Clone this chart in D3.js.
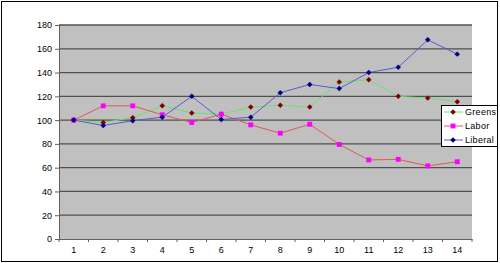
<!DOCTYPE html>
<meta charset="utf-8">
<style>
  body { margin: 0; background: #fff; }
  svg text { font-family: "Liberation Sans", Arial, sans-serif; font-size: 9px; fill: #000; }
  .grid line { stroke: #505050; stroke-width: 1.3px; }
  .line { fill: none; stroke-width: 1px; }
</style>
<body>
<script src="https://d3js.org/d3.v7.min.js"></script>
<script>
  // data
  var categories = ["1","2","3","4","5","6","7","8","9","10","11","12","13","14"];
  var greens  = [100, 98, 102, 112, 106, 105, 111, 112.5, 111, 132, 134, 120, 118.5, 115.5];
  var labor   = [100, 112, 112, 104.5, 98, 105, 96, 89, 96.5, 79.5, 66.5, 67, 61.5, 65];
  var liberal = [100, 95.5, 99.5, 102.5, 120, 100.5, 102.5, 123, 130, 126.5, 140, 144.5, 167.5, 155.5];
  var yTicks  = [0, 20, 40, 60, 80, 100, 120, 140, 160, 180];

  var seriesList = [
    { name: "Greens",  values: greens,  line: "#6ee06e", marker: "#800000", rot: 45 },
    { name: "Labor",   values: labor,   line: "#e05858", marker: "#ff00ff", rot: 0 },
    { name: "Liberal", values: liberal, line: "#5a5ad0", marker: "#000080", rot: 45 }
  ];

  var W = 500, H = 263;
  var margin = { top: 25, right: 28, bottom: 24, left: 59 },
    width = W - margin.left - margin.right,
    height = H - margin.top - margin.bottom;

  var svg = d3.select("body").append("svg")
    .attr("width", W)
    .attr("height", H);

  // outer chart border
  svg.append("rect")
    .attr("x", 1.5).attr("y", 1.5)
    .attr("width", W - 4).attr("height", H - 3)
    .attr("fill", "#fff").attr("stroke", "#000").attr("stroke-width", 1);

  var g = svg.append("g")
    .attr("transform", "translate(" + margin.left + "," + margin.top + ")");

  var x = d3.scaleBand().domain(categories).range([0, width]);
  var y = d3.scaleLinear().domain([0, 180]).range([height, 0]);

  // plot area
  g.append("rect")
    .attr("width", width).attr("height", height)
    .attr("fill", "#c0c0c0");

  // gridlines
  g.append("g").attr("class", "grid")
    .selectAll("line")
    .data(yTicks.filter(function (d) { return d > 0; }))
    .enter().append("line")
    .attr("x1", 0).attr("x2", width)
    .attr("y1", function (d) { return y(d); })
    .attr("y2", function (d) { return y(d); });

  // y axis
  var yAxis = g.append("g")
    .call(d3.axisLeft(y).tickValues(yTicks).tickSize(4).tickPadding(3));
  yAxis.select(".domain").attr("stroke", "#606060");
  yAxis.selectAll(".tick line").attr("stroke", "#606060");

  // x axis, ticks at category boundaries
  var xAxis = g.append("g")
    .attr("transform", "translate(0," + height + ")")
    .call(d3.axisBottom(x).tickSize(0).tickPadding(8));
  xAxis.select(".domain").attr("stroke", "#606060");
  xAxis.selectAll("text").attr("dy", "0.71em");
  xAxis.selectAll(".bound")
    .data(d3.range(categories.length + 1))
    .enter().append("line")
    .attr("class", "bound")
    .attr("x1", function (i) { return i * x.bandwidth(); })
    .attr("x2", function (i) { return i * x.bandwidth(); })
    .attr("y1", 0).attr("y2", 3)
    .attr("stroke", "#606060");

  var cx = function (d, i) { return x(categories[i]) + x.bandwidth() / 2; };
  var marker = function (s) {
    return d3.symbol().type(d3.symbolSquare).size(s.rot ? 15 : 24)();
  };

  seriesList.forEach(function (s) {
    var valueline = d3.line()
      .x(cx)
      .y(function (d) { return y(d); });

    g.append("path")
      .datum(s.values)
      .attr("class", "line")
      .attr("stroke", s.line)
      .attr("d", valueline);

    g.selectAll(null)
      .data(s.values)
      .enter().append("path")
      .attr("transform", function (d, i) {
        return "translate(" + cx(d, i) + "," + y(d) + ") rotate(" + s.rot + ")";
      })
      .attr("d", marker(s))
      .attr("fill", s.marker);
  });

  // legend
  var legend = svg.append("g").attr("transform", "translate(441,105)");
  legend.append("rect")
    .attr("x", 0.5).attr("y", 0.5)
    .attr("width", 56).attr("height", 41)
    .attr("fill", "#fff").attr("stroke", "#000");

  seriesList.forEach(function (s, i) {
    var ly = 7 + i * 14;
    legend.append("line")
      .attr("x1", 3).attr("x2", 22)
      .attr("y1", ly).attr("y2", ly)
      .attr("stroke", s.line);
    legend.append("path")
      .attr("transform", "translate(12," + ly + ") rotate(" + s.rot + ")")
      .attr("d", marker(s))
      .attr("fill", s.marker);
    legend.append("text")
      .attr("x", 24).attr("y", ly)
      .attr("dy", "0.35em")
      .style("letter-spacing", "0.3px")
      .text(s.name);
  });
</script>
</body>
